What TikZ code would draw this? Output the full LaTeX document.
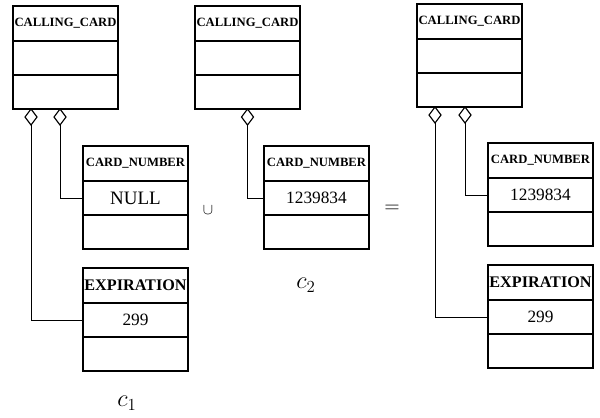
\documentclass[tikz,border=0pt]{standalone}
\usepackage{fontspec}
\setmainfont{Liberation Serif}
\usetikzlibrary{positioning,shapes.geometric}
\tikzset{
  row/.style={draw, line width=0.9pt, minimum width=2.625cm, inner sep=0pt, outer sep=0pt, anchor=north},
  head/.style={row, minimum height=0.875cm, font=\bfseries\fontsize{9}{10}\selectfont},
  bighead/.style={row, minimum height=0.875cm, font=\bfseries\fontsize{11.5}{12}\selectfont},
  slot/.style={row, minimum height=0.85cm, font=\fontsize{12.3}{13}\selectfont},
  agg/.style={draw, diamond, line width=0.8pt, inner sep=0pt, outer sep=0pt, minimum width=0.3cm,
    minimum height=0.4cm, anchor=north, fill=white},
  link/.style={line width=0.7pt},
  var/.style={font=\fontsize{17}{19}\selectfont},
}

\begin{document}
\begin{tikzpicture}[x=0.025cm, y=-0.025cm]
  \useasboundingbox (0,0) rectangle (600,418);

  % c1 = left object
  \node[head, anchor=north west] (cc1) at (13,6) {CALLING\_CARD};
  \node[slot, below=0pt of cc1] (cc1a) {};
  \node[slot, below=0pt of cc1a] (cc1b) {};
  \node[agg] (d1a) at ([xshift=0.45cm]cc1b.south west) {};
  \node[agg] (d1b) at ([xshift=1.175cm]cc1b.south west) {};

  \node[head, anchor=north west] (cn1) at (83,146) {CARD\_NUMBER};
  \node[slot, below=0pt of cn1, font=\fontsize{13.5}{14}\selectfont] (cn1v) {NULL};
  \node[slot, below=0pt of cn1v] (cn1e) {};

  \node[bighead, anchor=north west] (ex1) at (83,268) {\makebox[0pt]{EXPIRATION}};
  \node[slot, below=0pt of ex1] (ex1v) {299};
  \node[slot, below=0pt of ex1v] (ex1e) {};

  \draw[link] (d1b.south) |- (cn1v.west);
  \draw[link] (d1a.south) |- (ex1v.west);
  \node[var] (c1) at (127,403) {$c_1$};

  % union sign
  \node[font=\fontsize{11}{12}\selectfont] (un) at (208,210) {$\cup$};

  % c2 = middle object
  \node[head, anchor=north west] (cc2) at (195,6) {CALLING\_CARD};
  \node[slot, below=0pt of cc2] (cc2a) {};
  \node[slot, below=0pt of cc2a] (cc2b) {};
  \node[agg] (d2) at (cc2b.south) {};

  \node[head, anchor=north west] (cn2) at (264,146) {CARD\_NUMBER};
  \node[slot, below=0pt of cn2] (cn2v) {1239834};
  \node[slot, below=0pt of cn2v] (cn2e) {};

  \draw[link] (d2.south) |- (cn2v.west);
  \node[var] (c2) at (306,285) {$c_2$};

  % result
  \node[font=\fontsize{14}{16}\selectfont] (eq) at (392,209) {$=$};

  \node[head, anchor=north west] (cc3) at (417,4) {CALLING\_CARD};
  \node[slot, below=0pt of cc3] (cc3a) {};
  \node[slot, below=0pt of cc3a] (cc3b) {};
  \node[agg] (d3a) at ([xshift=0.45cm]cc3b.south west) {};
  \node[agg] (d3b) at ([xshift=1.2cm]cc3b.south west) {};

  \node[head, anchor=north west] (cn3) at (488,143) {CARD\_NUMBER};
  \node[slot, below=0pt of cn3] (cn3v) {1239834};
  \node[slot, below=0pt of cn3v] (cn3e) {};

  \node[bighead, anchor=north west] (ex3) at (488,265) {\makebox[0pt]{EXPIRATION}};
  \node[slot, below=0pt of ex3] (ex3v) {299};
  \node[slot, below=0pt of ex3v] (ex3e) {};

  \draw[link] (d3b.south) |- (cn3v.west);
  \draw[link] (d3a.south) |- (ex3v.west);
\end{tikzpicture}
\end{document}
